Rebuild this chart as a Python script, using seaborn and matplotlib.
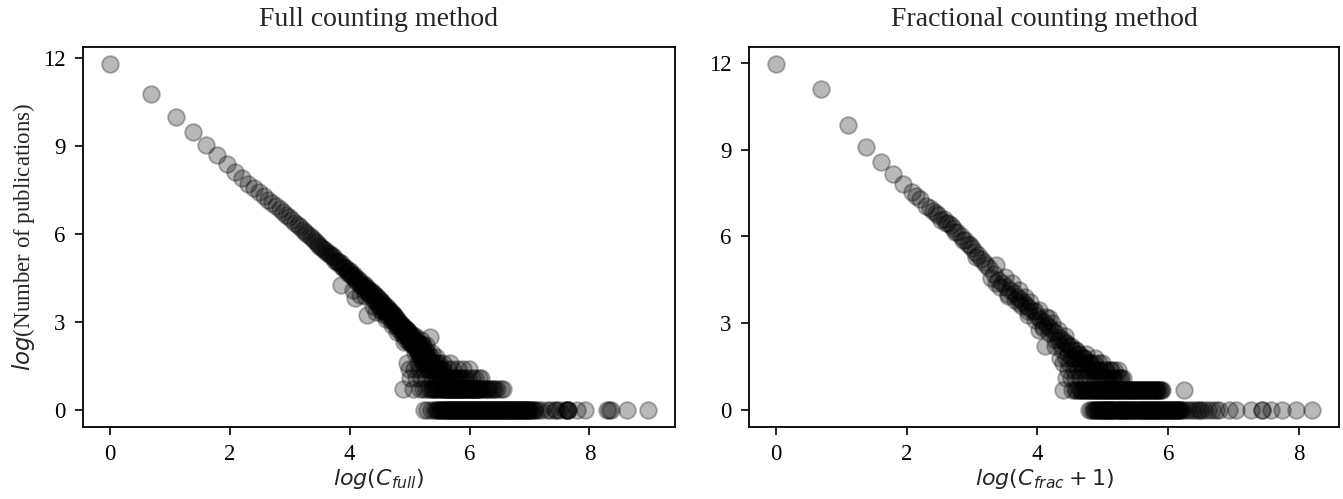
import numpy as np
import pandas as pd
import matplotlib
matplotlib.use("Agg")
import matplotlib.pyplot as plt
import seaborn as sns

# ---- Full counting: citation count -> number of publications ----
full_cites = [1, 2, 3, 4, 5, 6, 7, 8, 9, 10, 11, 12, 13, 14, 15, 16, 17, 18, 19, 20,
              21, 22, 23, 24, 25, 26, 27, 28, 29, 30, 31, 32, 33, 34, 35, 36, 37, 38, 39, 40,
              42, 44, 46, 48, 50, 52, 54, 56, 58, 60, 62, 64, 66, 68, 70, 72, 74, 76, 78, 80,
              82, 84, 86, 88, 90, 92, 94, 96, 98, 100, 103, 106, 109, 112, 115, 118, 121, 124,
              127, 130, 133, 136, 139, 142, 145, 148]
full_pubs = [133000, 48000, 22000, 13000, 8500, 6000, 4450, 3360, 2700, 2250, 1930, 1670, 1465,
             1293, 1153, 1038, 940, 856, 782, 718, 654, 598, 549, 505, 467, 433, 402, 375, 350,
             327, 307, 289, 272, 258, 245, 233, 221, 211, 201, 192, 180, 158, 153, 135, 131, 116,
             115, 101, 99, 88, 87, 77, 78, 68, 70, 60, 62, 53, 57, 49, 52, 43, 47, 39, 42, 36, 38,
             32, 35, 29, 31, 26, 27, 22, 25, 20, 22, 17, 19, 15, 17, 14, 16, 12, 14, 11]

full_mid_cites = [41, 43, 45, 47, 49, 51, 53, 55, 57, 59, 61, 63, 65, 67, 69, 71, 73, 75, 77, 79,
                  81, 83, 85, 87, 89, 91, 93, 95, 97, 99, 101, 104, 107, 110, 113, 116, 119, 122,
                  125, 128, 131, 134, 137, 140, 143, 146, 149,
                  47, 60, 73, 58, 65, 80, 90, 100, 110, 120, 135, 143, 70, 85, 95,
                  102, 105, 108, 111, 114, 117, 120, 123, 126, 129, 132, 135, 138, 141, 144, 147,
                  150, 152, 154, 156, 158, 160, 162, 164, 166, 168, 172, 174, 176, 178, 182, 184,
                  186, 188, 192, 194, 196, 198]
full_mid_pubs = [190, 160, 148, 150, 125, 128, 108, 113, 95, 98, 82, 86, 72, 68, 72, 58, 64, 52,
                 58, 46, 53, 41, 48, 37, 44, 33, 40, 30, 36, 27, 33, 24, 29, 21, 26, 19, 23, 16,
                 20, 14, 18, 13, 16, 11, 15, 10, 13,
                 70, 45, 25, 60, 50, 35, 30, 22, 18, 14, 10, 5, 48, 28, 26,
                 28, 30, 24, 27, 21, 24, 19, 21, 17, 19, 15, 17, 13, 15, 12, 14,
                 10, 12, 9, 11, 13, 9, 11, 8, 12, 9, 10, 7, 9, 11, 8, 6,
                 9, 7, 7, 5, 9, 6]

full_tail_cites = [134, 147, 150, 151, 153, 155, 156, 157, 159, 161, 163, 165, 167, 169, 171, 173,
                   175, 177, 179, 181, 183, 185, 187, 189, 191, 193, 195, 197, 199, 201, 203, 205,
                   207, 210, 213, 216, 219, 222, 225, 228, 231, 234, 237, 240, 243, 246, 249, 252,
                   255, 258, 261, 264, 267, 270, 274, 278, 282, 286, 290, 294, 298, 303, 308, 313,
                   318, 324, 330, 336, 342, 348, 355, 362, 370, 378, 386, 395, 403, 412, 422, 432,
                   445, 458, 472, 490, 520, 545, 600, 640, 680, 700,
                   165, 180, 195, 215, 240, 252, 275, 300, 315, 335, 350, 372, 420, 470, 490,
                   160, 175, 190, 205, 220, 245, 280, 300, 330, 360,
                   170, 185, 200, 215, 235, 260, 290, 180, 200, 215, 230, 162, 178, 194,
                   176, 186, 196, 206, 217, 228, 240, 253, 266, 280, 294, 309, 325, 341, 358,
                   376, 395, 415, 436, 458, 481, 505, 530, 556, 583, 612,
                   212, 219, 226, 233, 244, 256, 268, 276, 284, 292, 305, 316, 327, 339, 351,
                   365, 382, 398, 408, 418, 428, 440, 452, 465]
full_tail_pubs = [2, 4, 3, 11, 13, 10, 2, 12, 9, 11, 10, 8, 10, 9, 7, 9,
                  8, 6, 8, 7, 9, 6, 7, 5, 6, 8, 5, 6, 4, 5, 7, 4,
                  5, 12, 6, 4, 5, 3, 4, 5, 3, 4, 3, 4, 5, 3, 3, 4,
                  2, 3, 4, 3, 2, 3, 2, 3, 2, 3, 2, 3, 2, 2, 3, 2,
                  2, 3, 2, 2, 3, 2, 2, 3, 2, 2, 2, 3, 4, 2, 2, 2,
                  3, 2, 2, 2, 2, 2, 2, 2, 2, 2,
                  3, 3, 3, 3, 3, 3, 3, 3, 3, 3, 3, 3, 3, 3, 3,
                  4, 4, 4, 4, 4, 4, 4, 4, 4, 4,
                  5, 5, 5, 5, 5, 5, 5, 6, 6, 7, 6, 7, 8, 6,
                  2, 2, 2, 2, 2, 2, 2, 2, 2, 2, 2, 2, 2, 2, 2,
                  2, 2, 2, 2, 2, 2, 2, 2, 2, 2, 2,
                  2, 2, 2, 2, 2, 2, 2, 2, 2, 2, 2, 2, 2, 2, 2,
                  2, 2, 2, 2, 2, 2, 2, 2, 2]

full_single_cites = [190, 200, 212, 222, 230, 239, 245, 251, 258, 265, 272, 279, 286, 293, 300,
                     308, 316, 324, 332, 340, 349, 358, 367, 376, 386, 396, 406, 416, 427, 438,
                     449, 460, 472, 484, 496, 509, 522, 535, 548, 562, 576, 590, 605, 620, 636,
                     652, 668, 685, 702, 720, 738, 756, 775, 795, 815, 835, 856, 878, 900, 923,
                     946, 970, 994, 1019, 1045, 1071, 1098, 1153, 1212, 1274, 1339, 1480, 1556,
                     1669, 1808, 1998, 2038, 2101, 2440, 2752, 4024, 4148, 4273, 5597, 7929,
                     235, 248, 261, 268, 275, 283, 290, 297, 304, 312, 320, 328, 336, 345, 354,
                     363, 372, 381, 391, 401, 411, 421, 432, 443, 455, 466, 478, 490, 502, 515,
                     528, 541, 555, 569, 583, 598, 612, 628, 644, 660, 676, 693, 711, 729, 747,
                     765, 785, 805, 825, 845, 867, 889, 911, 934, 958, 982, 1007, 1032, 1058,
                     1085, 1120, 1180, 1700, 2070, 2060]

# ---- Fractional counting: C_frac -> number of publications ----
frac_cites = [0, 1, 2, 3, 4, 5, 6, 7, 7.5, 8, 9, 9.5, 10, 11, 11.5, 12, 13, 14, 15, 16, 17, 18,
              19, 20, 21, 22, 23, 24, 25, 27, 29, 31, 33, 35, 37, 39, 41, 43, 45, 47, 50, 53,
              56, 59, 62, 65, 68, 72, 76, 80, 84, 88, 92, 96, 100, 110, 120, 130,
              10.5, 12.5, 13.5, 14.5, 16.5, 18.5, 20.5, 26, 28, 30, 32, 34, 36, 38, 40, 42, 44,
              46, 48, 52, 55, 58, 61, 64, 67, 70, 74, 78, 82, 60, 55]
frac_pubs = [156000, 66000, 19000, 9000, 5270, 3460, 2490, 1845, 1620, 1480, 1150, 1070, 982,
             846, 700, 742, 637, 539, 464, 402, 351, 309, 273, 239, 211, 187, 166, 148, 133,
             109, 90, 79, 70, 62, 56, 50, 46, 42, 38, 34, 30, 26, 23, 21, 19, 17, 15, 14, 12,
             11, 10, 9, 8, 8, 7, 6, 5, 4,
             900, 640, 600, 470, 360, 300, 200, 95, 150, 70, 100, 55, 80, 45, 62, 36, 50,
             30, 42, 22, 32, 17, 25, 14, 20, 11, 16, 9, 13, 9, 16]

frac_tail_cites = [28, 34, 40, 46, 52, 58, 64, 70, 74, 78, 82, 86, 90, 94, 98, 102, 106, 110,
                   114, 118, 122, 126, 130, 135, 140, 145, 150, 155, 160, 166, 172, 178, 185,
                   192, 200,
                   84, 90, 96, 104, 112, 120, 128, 138, 146, 158, 170, 185, 196,
                   86, 94, 100, 108, 116, 124, 132, 142, 152, 164, 175,
                   80, 88, 96, 104, 112, 120, 128, 138, 76, 84, 92, 100, 108]
frac_tail_pubs = [80, 52, 40, 27, 31, 18, 24, 9, 11, 8, 10, 7, 9, 6, 8, 7, 5, 6,
                  7, 4, 5, 4, 6, 3, 4, 5, 3, 4, 3, 4, 3, 3, 4,
                  3, 3,
                  3, 3, 3, 3, 3, 3, 3, 3, 3, 3, 3, 3, 3,
                  4, 4, 4, 4, 4, 4, 4, 4, 4, 4, 4,
                  5, 5, 5, 5, 5, 5, 5, 5, 6, 6, 6, 6, 6]

frac_double_cites = [80, 92, 100, 106, 112, 118, 124, 130, 136, 142, 148, 155, 162, 169, 176,
                     184, 192, 200, 209, 218, 228, 238, 249, 260, 272, 285, 298, 312, 326, 340,
                     355, 368, 512,
                     96, 103, 109, 115, 121, 127, 133, 139, 145, 152, 158, 165, 172, 180, 188,
                     196, 204, 213, 223, 233, 243, 254, 266, 278, 291, 305, 319, 333, 347, 362,
                     98, 105, 111, 117, 123, 129, 135, 141, 147, 154, 160, 167, 174, 182, 190,
                     198, 207, 216, 226, 236, 246, 257, 269, 281, 294, 308, 322, 337]

frac_single_cites = [119, 127, 131, 135, 139, 143, 147, 151, 155, 159, 163, 167, 171, 176, 181,
                     186, 191, 196, 201, 206, 212, 218, 224, 230, 236, 242, 249, 256, 263, 270,
                     277, 284, 292, 300, 308, 316, 324, 333, 342, 351, 360, 370, 380, 390, 400,
                     411, 422, 433, 445, 457, 470, 483, 500, 520, 545, 570, 600, 625, 660, 700,
                     740, 790, 840, 880, 1022, 1129, 1421, 1702, 1938, 2296, 2837, 3640,
                     123, 129, 133, 137, 141, 145, 149, 153, 157, 161, 165, 169, 173, 178, 183,
                     188, 193, 198, 203, 209, 215, 221, 227, 233, 239, 245, 252, 259, 266, 273,
                     280, 288, 296, 304, 312, 320, 328, 337, 346, 355, 365, 375, 385, 395, 405,
                     416, 427, 439, 451, 463, 476, 490, 640, 1700]

assert len(full_cites) == len(full_pubs)
assert len(full_mid_cites) == len(full_mid_pubs)
assert len(full_tail_cites) == len(full_tail_pubs)
assert len(frac_cites) == len(frac_pubs)
assert len(frac_tail_cites) == len(frac_tail_pubs)

# build tables
full = pd.DataFrame({
    "cites": full_cites + full_mid_cites + full_tail_cites + full_single_cites,
    "pubs": full_pubs + full_mid_pubs + full_tail_pubs + [1] * len(full_single_cites),
})
full["x"] = np.log(full["cites"])
full["y"] = np.log(full["pubs"])

frac = pd.DataFrame({
    "cites": frac_cites + frac_tail_cites + frac_double_cites + frac_single_cites,
    "pubs": frac_pubs + frac_tail_pubs + [2] * len(frac_double_cites) + [1] * len(frac_single_cites),
})
frac["x"] = np.log(np.array(frac["cites"], dtype=float) + 1)
frac["y"] = np.log(frac["pubs"])

sns.set_style("ticks")
plt.rcParams["font.family"] = ["Liberation Serif", "DejaVu Sans"]
plt.rcParams["mathtext.fontset"] = "dejavusans"
plt.rcParams["axes.linewidth"] = 1.3

fig = plt.figure(figsize=(13.43, 4.99), dpi=100)
ax1 = fig.add_axes([0.0618, 0.1443, 0.4408, 0.7615])
ax2 = fig.add_axes([0.5577, 0.1443, 0.4393, 0.7615])

marker_kw = dict(color="k", alpha=0.28, s=145, edgecolor="k", linewidth=1.4)
sns.scatterplot(data=full, x="x", y="y", ax=ax1, **marker_kw)
sns.scatterplot(data=frac, x="x", y="y", ax=ax2, **marker_kw)

for ax in (ax1, ax2):
    ax.set_xticks([0, 2, 4, 6, 8])
    ax.set_yticks([0, 3, 6, 9, 12])
    ax.tick_params(labelsize=16.5, width=1.2, length=6, pad=6.5, colors="k")
    for sp in ax.spines.values():
        sp.set_color("k")

ax1.set_title("Full counting method", fontsize=20, pad=15)
ax2.set_title("Fractional counting method", fontsize=20, pad=15)
ax1.set_xlabel(r"$log(C_{full})$", fontsize=16, labelpad=1)
ax2.set_xlabel(r"$log(C_{frac}+1)$", fontsize=16, labelpad=1)
ax1.set_ylabel(r"$log$(Number of publications)", fontsize=16.5)
ax2.set_ylabel("")

fig.savefig("out.png", dpi=100)
